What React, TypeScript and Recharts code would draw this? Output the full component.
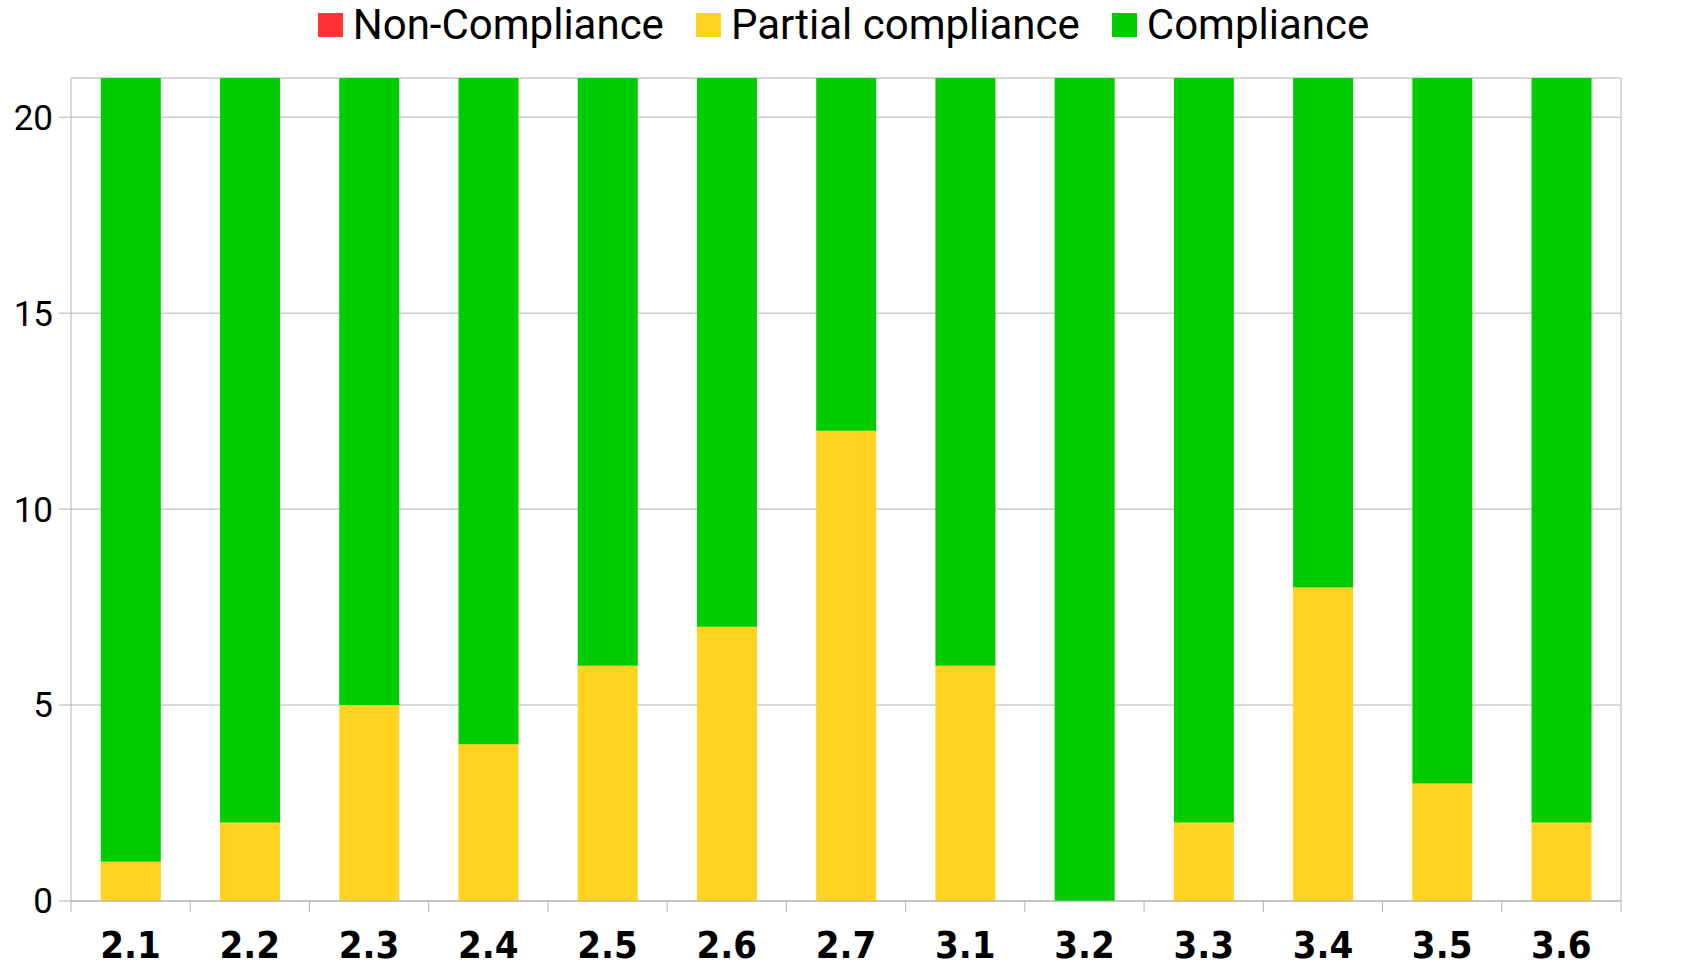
import React from "react";
import { BarChart, Bar, XAxis, YAxis, CartesianGrid, Legend } from "recharts";

const sections = ["2.1", "2.2", "2.3", "2.4", "2.5", "2.6", "2.7", "3.1", "3.2", "3.3", "3.4", "3.5", "3.6"];
const nonCompliance = [0, 0, 0, 0, 0, 0, 0, 0, 0, 0, 0, 0, 0];
const partialCompliance = [1, 2, 5, 4, 6, 7, 12, 6, 0, 2, 8, 3, 2];
const compliance = [20, 19, 16, 17, 15, 14, 9, 15, 21, 19, 13, 18, 19];
const yTicks = [0, 5, 10, 15, 20];

const series = [
  { key: "non", name: "Non-Compliance", color: "#FF3333" },
  { key: "partial", name: "Partial compliance", color: "#FFD320" },
  { key: "full", name: "Compliance", color: "#00CC00" },
];

const data = sections.map((s, i) => ({
  section: s,
  non: nonCompliance[i],
  partial: partialCompliance[i],
  full: compliance[i],
}));

const W = 1687;
const H = 968;
const LEFT_W = 71;
const RIGHT_W = 66;
const X_H = 67;
const BAND = (W - LEFT_W - RIGHT_W) / sections.length;
const GRID = "#b3b3b3";

const XTick = (props: any) => {
  const { x, y, payload, index } = props;
  return (
    <g>
      <line x1={x - BAND / 2} x2={x - BAND / 2} y1={y} y2={y + 11} stroke={GRID} />
      {index === sections.length - 1 && (
        <line x1={x + BAND / 2} x2={x + BAND / 2} y1={y} y2={y + 11} stroke={GRID} />
      )}
      <text
        x={x}
        y={y + 57}
        textAnchor="middle"
        fill="#000"
        fontWeight="bold"
        fontSize={38}
        fontFamily="'DejaVu Sans Condensed', sans-serif"
      >
        {payload.value}
      </text>
    </g>
  );
};

const LegendRow = () => (
  <div
    style={{
      height: 74,
      display: "flex",
      justifyContent: "center",
      alignItems: "flex-start",
      fontFamily: "Roboto, sans-serif",
      fontSize: 42,
      lineHeight: "42px",
      color: "#000",
    }}
  >
    {series.map((s) => (
      <div key={s.key} style={{ display: "flex", alignItems: "center", margin: "0 16px" }}>
        <span style={{ width: 25, height: 24, background: s.color, marginRight: 10, display: "inline-block" }} />
        <span>{s.name}</span>
      </div>
    ))}
  </div>
);

export default function App() {
  return (
    <div style={{ position: "absolute", left: 0, top: 0, background: "#fff" }}>
      <BarChart
        width={W}
        height={H}
        data={data}
        margin={{ top: 4, right: 0, left: 0, bottom: 0 }}
        barCategoryGap="25%"
      >
        <Legend verticalAlign="top" content={<LegendRow />} wrapperStyle={{ width: W, left: 0 }} />
        <CartesianGrid vertical={false} stroke={GRID} />
        <XAxis
          dataKey="section"
          height={X_H}
          interval={0}
          tickSize={0}
          tickMargin={0}
          tickLine={false}
          axisLine={{ stroke: GRID }}
          tick={<XTick />}
        />
        <XAxis xAxisId="top" dataKey="section" orientation="top" height={0} tick={false} tickLine={false} axisLine={{ stroke: GRID }} />
        <YAxis
          width={LEFT_W}
          domain={[0, 21]}
          ticks={yTicks}
          interval={0}
          tickSize={12}
          tickMargin={6}
          tickLine={{ stroke: GRID }}
          axisLine={{ stroke: GRID }}
          tick={{ fill: "#000", fontSize: 35, fontFamily: "Roboto, sans-serif" }}
        />
        <YAxis
          yAxisId="right"
          orientation="right"
          width={RIGHT_W}
          domain={[0, 21]}
          ticks={yTicks}
          interval={0}
          tickSize={11}
          tickMargin={7}
          tickLine={{ stroke: GRID }}
          axisLine={{ stroke: GRID }}
          tick={{ fill: "#000", fontSize: 27, fontFamily: "'Liberation Sans', Arial, sans-serif" }}
        />
        {series.map((s) => (
          <Bar key={s.key} dataKey={s.key} name={s.name} stackId="a" fill={s.color} isAnimationActive={false} />
        ))}
      </BarChart>
    </div>
  );
}
